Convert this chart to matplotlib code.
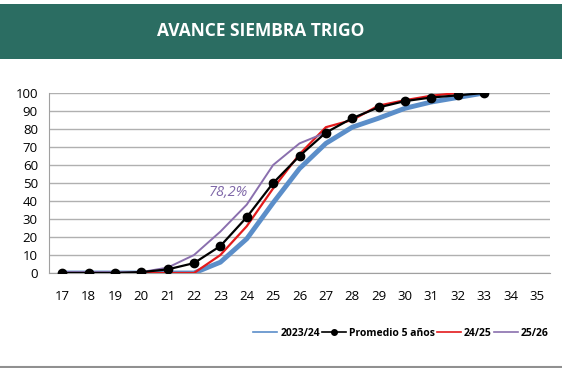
import numpy as np
import matplotlib
matplotlib.use('Agg')
from matplotlib import pyplot as plt
from matplotlib.lines import Line2D

# semanas
semanas = list(range(17, 36))

# series (% avance)
campana_2324 = [0, 0, 0, 0, 0, 0, 6, 19, 39, 58, 72, 81, 86, 91.5, 95, 97.5, 100]
promedio_5 = [0, 0, 0, 0.5, 2, 5.5, 15, 31, 50, 65, 78, 86, 92, 95.5, 97.5, 98.7, 100]
campana_2425 = [0, 0, 0, 0, 0, 0, 10, 26, 47, 66, 81, 85, 93, 96, 98.5, 100]
campana_2526 = [0.5, 0.5, 0.5, 0.5, 3, 10, 23, 38, 60, 72, 78]

etiqueta = '78,2%'
etiqueta_pos = (23.3, 45)

plt.rcParams['font.family'] = ['Open Sans', 'DejaVu Sans']

fig = plt.figure(figsize=(5.62, 3.68), dpi=100)

# banda del titulo
band = fig.add_axes([0, 1 - 59/368, 1, 55/368])
band.set_facecolor('#2b6d62')
band.set_xticks([])
band.set_yticks([])
for s in band.spines.values():
    s.set_visible(False)
band.text(261/562, 0.5, 'AVANCE SIEMBRA TRIGO', color='white', fontsize=12.5,
          fontweight='bold', ha='center', va='center', transform=band.transAxes)

ax = fig.add_axes([49/562, 1 - 273/368, 501/562, 180/368])

def xs(vals):
    return semanas[:len(vals)]

ax.plot(xs(campana_2324), campana_2324, color='#5b8ec9', lw=3.5, label='2023/24',
        solid_capstyle='round', zorder=2)
ax.plot(xs(promedio_5), promedio_5, color='black', lw=1.6, marker='o', markersize=6,
        label='Promedio 5 años', zorder=4)
ax.plot(xs(campana_2425), campana_2425, color='#e31a1c', lw=1.6, label='24/25', zorder=3)
ax.plot(xs(campana_2526), campana_2526, color='#8a6fae', lw=1.4, label='25/26', zorder=3)

ax.text(etiqueta_pos[0], etiqueta_pos[1], etiqueta, color='#7f67a8', fontsize=10.5,
        fontstyle='italic', ha='center', va='center')

ax.set_xlim(16.5, 35.5)
ax.set_ylim(0, 100)
ax.set_xticks(semanas)
ax.set_yticks(np.arange(0, 101, 10))
ax.grid(axis='y', color='#b0b0b0', lw=1)
ax.set_axisbelow(True)
for s in ['top', 'right']:
    ax.spines[s].set_visible(False)
ax.spines['left'].set_color('#a0a0a0')
ax.spines['bottom'].set_color('#a0a0a0')
ax.tick_params(length=0, labelsize=9.5, colors='black')
ax.tick_params(axis='x', pad=12)
ax.tick_params(axis='y', pad=8)

handles = [
    Line2D([], [], color='#5b8ec9', lw=1.2),
    Line2D([], [], color='black', lw=1.2, marker='o', markersize=4),
    Line2D([], [], color='#e31a1c', lw=1.2),
    Line2D([], [], color='#8a6fae', lw=1.2),
]
labels = ['2023/24', 'Promedio 5 años', '24/25', '25/26']
fig.legend(handles, labels, loc='center', bbox_to_anchor=(401/562, 1 - 333/368), ncol=4,
           frameon=False, prop={'size': 7.5, 'weight': 'bold'}, handlelength=2.3,
           handletextpad=0.3, columnspacing=0.2, borderaxespad=0)

fig.add_artist(Line2D([0, 1], [1 - 366.5/368, 1 - 366.5/368], color='#909090', lw=1.5,
                      transform=fig.transFigure))

fig.savefig('out.png', dpi=100)
